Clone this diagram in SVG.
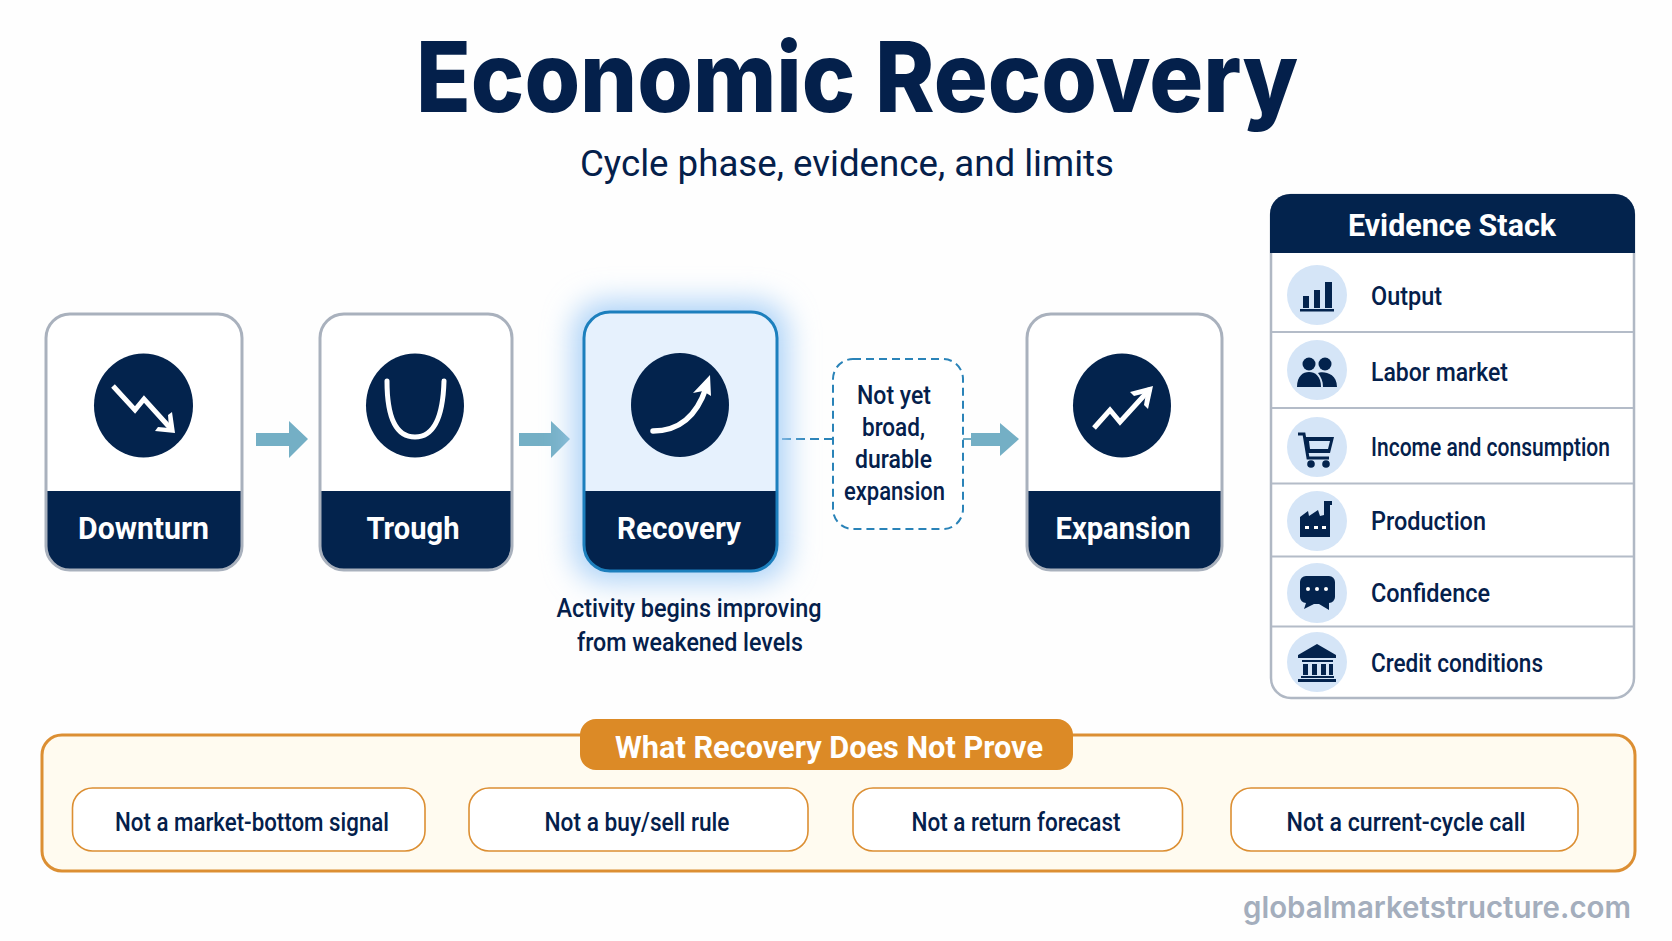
<svg xmlns="http://www.w3.org/2000/svg" width="1672" height="941" viewBox="0 0 1672 941">
<style>
text{font-family:"Roboto","Liberation Sans",sans-serif;fill:#04204b}
.mid{text-anchor:middle}
.label{font-size:32px;font-weight:700;fill:#fff;text-anchor:middle}
.row{font-size:25px;font-weight:500}
.note{font-size:25px;font-weight:500;text-anchor:middle}
.lim{font-size:25px;font-weight:500;text-anchor:middle}
.card{fill:#fff}
.edge{fill:none;stroke:#a9b1bd;stroke-width:3}
.band{fill:#03234d}
.disc{fill:#03234d}
.gl{fill:none;stroke:#fff;stroke-width:5;stroke-linecap:round;stroke-linejoin:miter}
.gf{fill:#fff}
.arrow{fill:#74afc5}
.ic{fill:#d5e5f7}
.nv{fill:#03234d}
.div{stroke:#b4bcc8;stroke-width:2}
.pill{fill:#fff;stroke:#dc8f33;stroke-width:1.6}
</style>
<defs><filter id="glow" x="-40%" y="-40%" width="180%" height="180%"><feGaussianBlur stdDeviation="15"/></filter></defs>
<rect width="1672" height="941" fill="#fefefe"/>
<g id="title">
<text x="857" y="112" class="mid" font-size="97" style="font-family:Inter,'Liberation Sans',sans-serif;font-weight:800" textLength="882" lengthAdjust="spacingAndGlyphs">Economic Recovery</text>
<text x="847" y="176" class="mid" font-size="36" textLength="534" lengthAdjust="spacingAndGlyphs">Cycle phase, evidence, and limits</text>
</g>
<g id="connectors">
<path class="arrow" d="M256 433H289V421L308 439 289 458V446H256Z"/>
<path class="arrow" d="M519 433H551V421L570 439 551 458V446H519Z"/>
<line x1="782" y1="439" x2="833" y2="439" stroke="#2a83b8" stroke-width="2" stroke-dasharray="9 5"/>
<line x1="963" y1="439" x2="972" y2="439" stroke="#74afc5" stroke-width="2"/>
<path class="arrow" d="M971 433H1000V423L1019 439 1000 456V446H971Z"/>
</g>
<g id="downturn">
<rect class="card" x="46" y="314" width="196" height="256" rx="24"/>
<path class="band" d="M46 491H242V546a24 24 0 0 1-24 24H70a24 24 0 0 1-24-24Z"/>
<rect class="edge" x="46" y="314" width="196" height="256" rx="24"/>
<ellipse class="disc" cx="143.500" cy="405.500" rx="49.500" ry="52"/>
<path class="gl" d="M113 386L135 410 144 399 172 430" style="stroke-linecap:butt"/>
<path class="gf" d="M172 412L175 433 155 431 158 427 169 428 168 415Z"/>
<text class="label" x="143.500" y="539" textLength="131" lengthAdjust="spacingAndGlyphs">Downturn</text>
</g>
<g id="trough">
<rect class="card" x="320" y="314" width="192" height="256" rx="24"/>
<path class="band" d="M320 491H512V546a24 24 0 0 1-24 24H344a24 24 0 0 1-24-24Z"/>
<rect class="edge" x="320" y="314" width="192" height="256" rx="24"/>
<ellipse class="disc" cx="415" cy="405.500" rx="49" ry="52"/>
<path class="gl" d="M387 381C387 417 396 437 415 437S443 417 444 381"/>
<text class="label" x="413" y="539" textLength="93" lengthAdjust="spacingAndGlyphs">Trough</text>
</g>
<g id="recovery">
<rect x="574" y="302" width="213" height="279" rx="30" fill="#a9d0f7" filter="url(#glow)"/>
<rect x="584" y="312" width="193" height="259" rx="26" fill="#e6f1fd"/>
<path class="band" d="M584 491H777V545a26 26 0 0 1-26 26H610a26 26 0 0 1-26-26Z"/>
<rect x="584" y="312" width="193" height="259" rx="26" fill="none" stroke="#1c7fbd" stroke-width="3"/>
<ellipse class="disc" cx="680" cy="405" rx="49" ry="52"/>
<path class="gl" d="M653 431C678 431 696 418 706 388" style="stroke-width:5.500"/>
<path class="gf" d="M710 375L711 396 703 391 693 393Z"/>
<text class="label" x="679" y="539" textLength="124" lengthAdjust="spacingAndGlyphs">Recovery</text>
<text class="note" x="689" y="617" textLength="265" lengthAdjust="spacingAndGlyphs">Activity begins improving</text>
<text class="note" x="690" y="650.500" textLength="226" lengthAdjust="spacingAndGlyphs">from weakened levels</text>
</g>
<g id="not-yet">
<rect x="833" y="359" width="130" height="170" rx="20" fill="#fff" stroke="#2a83b8" stroke-width="2" stroke-dasharray="8 5"/>
<text class="note" x="894" y="403.500" textLength="74" lengthAdjust="spacingAndGlyphs">Not yet</text>
<text class="note" x="893.500" y="436" textLength="63" lengthAdjust="spacingAndGlyphs">broad,</text>
<text class="note" x="893.500" y="468" textLength="77" lengthAdjust="spacingAndGlyphs">durable</text>
<text class="note" x="894.500" y="500" textLength="101" lengthAdjust="spacingAndGlyphs">expansion</text>
</g>
<g id="expansion">
<rect class="card" x="1027" y="314" width="195" height="256" rx="24"/>
<path class="band" d="M1027 491H1222V546a24 24 0 0 1-24 24H1051a24 24 0 0 1-24-24Z"/>
<rect class="edge" x="1027" y="314" width="195" height="256" rx="24"/>
<ellipse class="disc" cx="1122" cy="405.500" rx="49" ry="52"/>
<path class="gl" d="M1094 428L1110 410 1120 422 1150 389" style="stroke-linecap:butt"/>
<path class="gf" d="M1153 386L1148 409 1144 405 1146 393 1134 396 1130 392Z"/>
<text class="label" x="1123" y="539" textLength="135" lengthAdjust="spacingAndGlyphs">Expansion</text>
</g>
<g id="evidence-stack">
<rect x="1271" y="195" width="363" height="503" rx="20" fill="#fff" stroke="#b0b8c4" stroke-width="2.500"/>
<path class="band" d="M1270 253V214a20 20 0 0 1 20-20H1615a20 20 0 0 1 20 20V253Z"/>
<text x="1452" y="236" class="label" textLength="208" lengthAdjust="spacingAndGlyphs">Evidence Stack</text>
<line class="div" x1="1272" x2="1633" y1="332" y2="332"/>
<line class="div" x1="1272" x2="1633" y1="408" y2="408"/>
<line class="div" x1="1272" x2="1633" y1="483.500" y2="483.500"/>
<line class="div" x1="1272" x2="1633" y1="556.500" y2="556.500"/>
<line class="div" x1="1272" x2="1633" y1="626.500" y2="626.500"/>
<g id="ev-output">
<circle class="ic" cx="1317" cy="295" r="30"/>
<rect class="nv" x="1303" y="296" width="6" height="12"/><rect class="nv" x="1314" y="290" width="6" height="18"/><rect class="nv" x="1325" y="282" width="7" height="26"/><rect class="nv" x="1300" y="309" width="34" height="2.500"/>
<text class="row" x="1371" y="305" textLength="71" lengthAdjust="spacingAndGlyphs">Output</text>
</g>
<g id="ev-labor">
<circle class="ic" cx="1317" cy="370" r="30"/>
<circle class="nv" cx="1309" cy="364" r="6.500"/><circle class="nv" cx="1325" cy="364" r="6.500"/>
<path class="nv" d="M1297 387C1297 376 1303 372 1309 372S1321 376 1321 387Z"/><path class="nv" d="M1323 387C1323 381 1321 377 1318 373 1322 371 1337 372 1337 387Z"/>
<text class="row" x="1371" y="381" textLength="137" lengthAdjust="spacingAndGlyphs">Labor market</text>
</g>
<g id="ev-income">
<circle class="ic" cx="1317" cy="447" r="30"/>
<path d="M1298 434H1304L1308 458H1329" fill="none" stroke="#03234d" stroke-width="3"/><path class="nv" d="M1305 437H1334L1330 453H1308ZM1309 441L1310 449H1328L1330 441Z" fill-rule="evenodd"/>
<circle class="nv" cx="1311" cy="464" r="3.800"/><circle class="nv" cx="1326" cy="464" r="3.800"/>
<text class="row" x="1371" y="456" textLength="239" lengthAdjust="spacingAndGlyphs">Income and consumption</text>
</g>
<g id="ev-production">
<circle class="ic" cx="1317" cy="521" r="30"/>
<path class="nv" d="M1300 537V517L1308 511 1309 516 1318 510 1320 516 1324 515V505H1330V537ZM1324 501H1332V505H1324Z"/>
<rect x="1305" y="526" width="4" height="3" fill="#fff"/><rect x="1314" y="526" width="4" height="3" fill="#fff"/><rect x="1322" y="526" width="4" height="3" fill="#fff"/>
<text class="row" x="1371" y="530" textLength="115" lengthAdjust="spacingAndGlyphs">Production</text>
</g>
<g id="ev-confidence">
<circle class="ic" cx="1317" cy="593" r="30"/>
<path class="nv" d="M1306 576H1329a6 6 0 0 1 6 6V597a6 6 0 0 1-6 6L1329 610 1319 604 1314 604 1304 609 1306 603a6 6 0 0 1-6-6V582a6 6 0 0 1 6-6Z"/>
<circle cx="1308" cy="589" r="2" fill="#fff"/><circle cx="1317" cy="589" r="2" fill="#fff"/><circle cx="1326" cy="589" r="2" fill="#fff"/>
<text class="row" x="1371" y="601.500" textLength="119" lengthAdjust="spacingAndGlyphs">Confidence</text>
</g>
<g id="ev-credit">
<circle class="ic" cx="1317" cy="662" r="30"/>
<path class="nv" d="M1317 644L1336 655V658H1298V655ZM1302 660H1333V662H1302ZM1303 664H1308V675H1303ZM1312 664H1317V675H1312ZM1321 664H1326V675H1321ZM1329 664H1333V675H1329ZM1301 676H1334V678H1301ZM1298 679H1336V682H1298Z"/>
<text class="row" x="1371" y="672" textLength="172" lengthAdjust="spacingAndGlyphs">Credit conditions</text>
</g>
</g>
<g id="limits">
<rect x="42" y="735" width="1593" height="136" rx="20" fill="#fffbf0" stroke="#dc8f33" stroke-width="3"/>
<rect x="580" y="719" width="493" height="51" rx="16" fill="#dc8a26"/>
<text x="829" y="758" class="label" textLength="428" lengthAdjust="spacingAndGlyphs">What Recovery Does Not Prove</text>
<g id="lim-1"><rect class="pill" x="72.500" y="788" width="352.500" height="63" rx="20"/><text class="lim" x="252" y="831" textLength="274" lengthAdjust="spacingAndGlyphs">Not a market-bottom signal</text></g>
<g id="lim-2"><rect class="pill" x="469" y="788" width="339" height="63" rx="20"/><text class="lim" x="637" y="831" textLength="185" lengthAdjust="spacingAndGlyphs">Not a buy/sell rule</text></g>
<g id="lim-3"><rect class="pill" x="853" y="788" width="329.500" height="63" rx="20"/><text class="lim" x="1016" y="831" textLength="209" lengthAdjust="spacingAndGlyphs">Not a return forecast</text></g>
<g id="lim-4"><rect class="pill" x="1231" y="788" width="347" height="63" rx="20"/><text class="lim" x="1406" y="831" textLength="239" lengthAdjust="spacingAndGlyphs">Not a current-cycle call</text></g>
</g>
<text id="watermark" x="1631" y="918" text-anchor="end" font-size="30" font-weight="600" style="fill:#a4aebd;font-family:Inter,sans-serif" textLength="388" lengthAdjust="spacingAndGlyphs">globalmarketstructure.com</text>
</svg>
